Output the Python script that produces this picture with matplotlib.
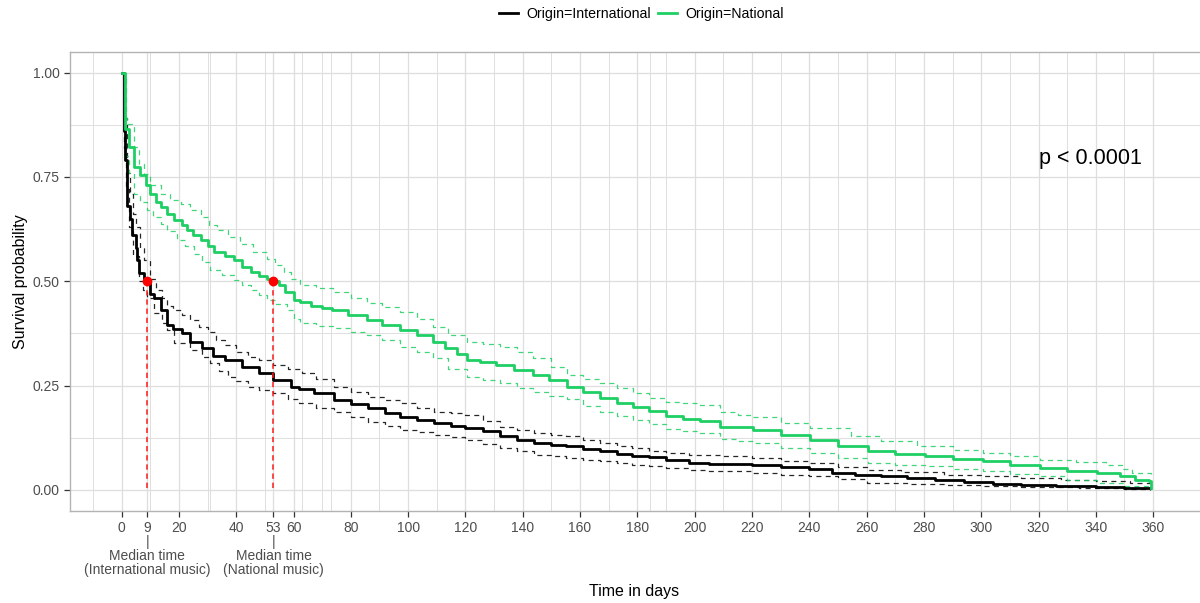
import numpy as np
import matplotlib
matplotlib.use("Agg")
import matplotlib.pyplot as plt
import matplotlib.transforms as mtransforms
from matplotlib.lines import Line2D

plt.rcParams["font.family"] = ["Liberation Sans", "DejaVu Sans"]

# Kaplan-Meier estimates (time in days, survival)
intl_t = [0, 1, 1.3, 2, 3, 3.7, 4.9, 5.5, 6.1, 7.8, 10, 11.4, 13.8, 16, 18, 21, 24, 28, 32, 36,
          42, 48, 53, 59, 62, 67, 74, 80, 86, 92, 97, 103, 109, 115, 120, 126, 132, 138, 144, 150,
          155, 161, 167, 173, 178, 184, 190, 198, 205, 212, 220, 230, 240, 248, 256, 265, 274, 284,
          294, 304, 314, 326, 340, 350, 359]
intl_s = [1.0, 0.86, 0.79, 0.68, 0.65, 0.61, 0.58, 0.55, 0.52, 0.50, 0.47, 0.46, 0.43, 0.395, 0.385,
          0.375, 0.355, 0.339, 0.32, 0.31, 0.295, 0.28, 0.263, 0.247, 0.242, 0.231, 0.215, 0.205,
          0.195, 0.185, 0.175, 0.168, 0.159, 0.153, 0.148, 0.14, 0.128, 0.12, 0.112, 0.108, 0.104,
          0.098, 0.092, 0.086, 0.081, 0.078, 0.072, 0.065, 0.063, 0.062, 0.060, 0.055, 0.050, 0.040,
          0.036, 0.033, 0.028, 0.024, 0.018, 0.015, 0.012, 0.009, 0.006, 0.005, 0.004]

intl_up_t = [0, 1, 2, 3, 4, 5, 6.5, 7.8, 10, 12, 14, 16, 18, 21, 24, 27, 30, 33, 36, 40, 44, 48,
             53, 58, 63, 68, 74, 80, 86, 92, 97, 103, 109, 115, 120, 126, 132, 138, 144, 150, 155,
             161, 167, 173, 178, 184, 190, 198, 210, 220, 230, 240, 250, 260, 272, 287, 300, 314,
             328, 340, 352, 359]
intl_up_s = [1.0, 0.89, 0.76, 0.71, 0.66, 0.63, 0.58, 0.55, 0.505, 0.48, 0.46, 0.44, 0.43, 0.42,
             0.407, 0.39, 0.379, 0.36, 0.347, 0.33, 0.319, 0.31, 0.299, 0.29, 0.279, 0.265, 0.247,
             0.235, 0.223, 0.215, 0.207, 0.197, 0.187, 0.183, 0.179, 0.165, 0.151, 0.144, 0.137,
             0.132, 0.128, 0.12, 0.112, 0.106, 0.1, 0.094, 0.088, 0.084, 0.08, 0.076, 0.07, 0.064,
             0.055, 0.048, 0.042, 0.036, 0.032, 0.028, 0.024, 0.020, 0.016, 0.016]

intl_lo_t = [0, 1, 1.5, 2.5, 4, 6, 7.5, 9, 11.3, 14, 15.9, 18.2, 24, 28, 31, 34, 37, 40, 44, 48,
             53, 58, 62, 68, 74, 80, 86, 92, 97, 103, 109, 115, 120, 126, 132, 138, 144, 150, 155,
             161, 167, 173, 178, 184, 190, 198, 205, 220, 230, 240, 250, 260, 275, 287, 300, 314,
             334, 350, 359]
intl_lo_s = [1.0, 0.82, 0.72, 0.63, 0.56, 0.50, 0.48, 0.46, 0.423, 0.40, 0.383, 0.351, 0.335,
             0.318, 0.303, 0.285, 0.271, 0.26, 0.247, 0.24, 0.231, 0.218, 0.207, 0.197, 0.187,
             0.175, 0.163, 0.152, 0.144, 0.138, 0.132, 0.126, 0.12, 0.11, 0.10, 0.092, 0.084, 0.08,
             0.076, 0.072, 0.068, 0.064, 0.06, 0.056, 0.052, 0.047, 0.044, 0.041, 0.036, 0.032,
             0.025, 0.017, 0.014, 0.012, 0.009, 0.006, 0.004, 0.001, 0.0]

nat_t = [0, 1.1, 2.5, 4.3, 6.6, 8.5, 10, 12, 13.6, 16, 18.2, 21, 23, 25, 27.6, 30, 32.2, 36, 39.2,
         42, 45, 48, 50.8, 53, 55, 57, 60, 62.3, 66, 70, 73.3, 79, 85.5, 91, 97, 103, 108.7, 113,
         117, 120.4, 125, 130.8, 137, 143.6, 149, 155.3, 161, 167, 173, 178.5, 184, 190, 196,
         201.7, 208.7, 214, 220.4, 230, 240.4, 250, 260.4, 270, 280.4, 290, 300.5, 310, 320.5,
         330, 340.4, 348.5, 353.8, 358.4, 359.3]
nat_s = [1.0, 0.865, 0.821, 0.773, 0.754, 0.73, 0.71, 0.69, 0.678, 0.66, 0.646, 0.635, 0.622,
         0.61, 0.598, 0.585, 0.57, 0.56, 0.55, 0.535, 0.522, 0.512, 0.506, 0.50, 0.49, 0.475,
         0.455, 0.449, 0.44, 0.435, 0.431, 0.42, 0.407, 0.395, 0.383, 0.37, 0.355, 0.34, 0.325,
         0.311, 0.307, 0.299, 0.287, 0.275, 0.263, 0.247, 0.234, 0.219, 0.209, 0.199, 0.19,
         0.177, 0.17, 0.165, 0.151, 0.150, 0.144, 0.132, 0.120, 0.105, 0.092, 0.086, 0.080,
         0.074, 0.068, 0.060, 0.052, 0.046, 0.040, 0.032, 0.024, 0.020, 0.005]

nat_up_t = [0, 1.1, 1.9, 4.3, 6, 7.8, 10, 13.6, 17, 20.6, 24, 27.6, 30.5, 33.4, 37, 41.5, 46,
            50.8, 53.5, 56.6, 59, 62.4, 68, 73.8, 80, 85.5, 91, 97.1, 103, 108.7, 114, 120.4, 126,
            132, 138, 143.6, 150, 155.3, 161, 167, 173, 178.5, 184, 190.1, 196, 201.7, 208.7, 215,
            220.4, 230, 240.4, 254.7, 265, 277.6, 290, 300.5, 310, 320.5, 333, 343.4, 349, 352.7,
            359.3]
nat_up_s = [1.0, 0.89, 0.877, 0.821, 0.78, 0.758, 0.73, 0.71, 0.695, 0.686, 0.67, 0.654, 0.635,
            0.622, 0.605, 0.59, 0.57, 0.554, 0.54, 0.522, 0.505, 0.49, 0.484, 0.474, 0.46, 0.447,
            0.437, 0.427, 0.41, 0.391, 0.372, 0.355, 0.35, 0.343, 0.33, 0.315, 0.295, 0.275, 0.265,
            0.255, 0.243, 0.231, 0.22, 0.211, 0.207, 0.203, 0.187, 0.18, 0.175, 0.16, 0.148, 0.128,
            0.118, 0.104, 0.095, 0.088, 0.08, 0.072, 0.066, 0.060, 0.05, 0.040, 0.038]

nat_lo_t = [0, 1.4, 2.5, 4.3, 6.5, 9, 11, 13.6, 16, 19.4, 22, 25.2, 28, 31, 35, 39.2, 42, 45, 48,
            50.8, 54, 57.8, 60, 62.3, 68, 73.8, 80, 85.5, 91, 97.1, 103, 108.7, 114, 120.4, 126,
            132, 138, 143.6, 149, 155.3, 161, 167, 173, 178.5, 184, 190.1, 196, 201.7, 208.7, 215,
            220.4, 230, 240.4, 250, 260.4, 270, 280.4, 290, 300.5, 310, 320.5, 330, 340.4, 350,
            359.3]
nat_lo_s = [1.0, 0.80, 0.76, 0.71, 0.69, 0.67, 0.655, 0.638, 0.62, 0.598, 0.585, 0.566, 0.545,
            0.526, 0.515, 0.502, 0.49, 0.478, 0.466, 0.455, 0.445, 0.43, 0.41, 0.399, 0.393,
            0.387, 0.379, 0.371, 0.358, 0.343, 0.33, 0.315, 0.29, 0.271, 0.263, 0.255, 0.245,
            0.235, 0.226, 0.217, 0.2, 0.187, 0.177, 0.167, 0.157, 0.145, 0.14, 0.136, 0.121, 0.118,
            0.112, 0.1, 0.088, 0.076, 0.064, 0.06, 0.056, 0.05, 0.044, 0.038, 0.032, 0.024, 0.016,
            0.01, 0.008]

median_times = [9, 53]
median_labels = ["Median time\n(International music)", "Median time\n(National music)"]
x_breaks = [0, 9] + list(range(20, 361, 20)) + [53]
y_breaks = [0.0, 0.25, 0.50, 0.75, 1.00]

black = "#000000"
green = "#1ECF63"
grid_col = "#DEDEDE"
label_col = "#4D4D4D"

fig = plt.figure(figsize=(12, 6.03), dpi=100)
ax = fig.add_axes([70 / 1200, 1 - 510.7 / 603, (1204.7 - 70) / 1200, (510.7 - 51.7) / 603])

# grid (major + minor as ggplot computed them for the unsorted break vector)
minor_x = list(range(-10, 360, 20)) + [184.5, 31, 63, 73]
for xv in minor_x:
    ax.axvline(xv, color=grid_col, lw=0.7, zorder=0)
for xv in x_breaks:
    ax.axvline(xv, color=grid_col, lw=0.9, zorder=0)
for yv in [0.125, 0.375, 0.625, 0.875]:
    ax.axhline(yv, color=grid_col, lw=0.7, zorder=0)
for yv in y_breaks:
    ax.axhline(yv, color=grid_col, lw=0.9, zorder=0)

# confidence bands
ax.plot(intl_up_t, intl_up_s, drawstyle="steps-post", color=black, lw=0.9, dashes=(4, 3.5), alpha=0.85)
ax.plot(intl_lo_t, intl_lo_s, drawstyle="steps-post", color=black, lw=0.9, dashes=(4, 3.5), alpha=0.85)
ax.plot(nat_up_t, nat_up_s, drawstyle="steps-post", color=green, lw=0.9, dashes=(4, 3.5), alpha=0.85)
ax.plot(nat_lo_t, nat_lo_s, drawstyle="steps-post", color=green, lw=0.9, dashes=(4, 3.5), alpha=0.85)

# survival curves
ax.plot(intl_t, intl_s, drawstyle="steps-post", color=black, lw=2)
ax.plot(nat_t, nat_s, drawstyle="steps-post", color=green, lw=2)

# median markers
for mt in median_times:
    ax.plot([mt, mt], [0.5, 0.0], color="#FF1A1A", lw=1.1, dashes=(3.5, 2.5), zorder=4)
    ax.plot(mt, 0.5, "o", color="red", ms=6, zorder=5)

ax.text(320, 0.794, "p < 0.0001", fontsize=15.5, ha="left", va="center")

ax.set_xlim(-18, 378)
ax.set_ylim(-0.05, 1.05)

ax.set_xticks(x_breaks)
ax.set_xticklabels([str(b) for b in x_breaks])
ax.set_yticks(y_breaks)
ax.set_yticklabels([f"{v:.2f}" for v in y_breaks])
ax.tick_params(axis="both", labelsize=10, labelcolor=label_col, color="#333333", length=4, width=0.9)

# extra text under the median ticks
trans = mtransforms.blended_transform_factory(ax.transData, ax.transAxes)
for mt, lab in zip(median_times, median_labels):
    ax.text(mt, -0.053, "|\n" + lab, transform=trans, ha="center", va="top",
            fontsize=10, color=label_col, linespacing=1.02)

for sp in ax.spines.values():
    sp.set_color("#B3B3B3")
    sp.set_linewidth(1)

ax.set_xlabel("Time in days", fontsize=11.5, va="center")
ax.xaxis.set_label_coords(0.497, -0.177)
ax.set_ylabel("Survival probability", fontsize=11.5, labelpad=3)

handles = [Line2D([], [], color=black, lw=2), Line2D([], [], color=green, lw=2)]
fig.legend(handles, ["Origin=International", "Origin=National"], loc="center",
           bbox_to_anchor=(641.5 / 1200, 1 - 14 / 603), ncol=2, frameon=False, fontsize=10.2,
           handlelength=1.3, handletextpad=0.6, columnspacing=0.5)

fig.savefig("out.png", dpi=100)
